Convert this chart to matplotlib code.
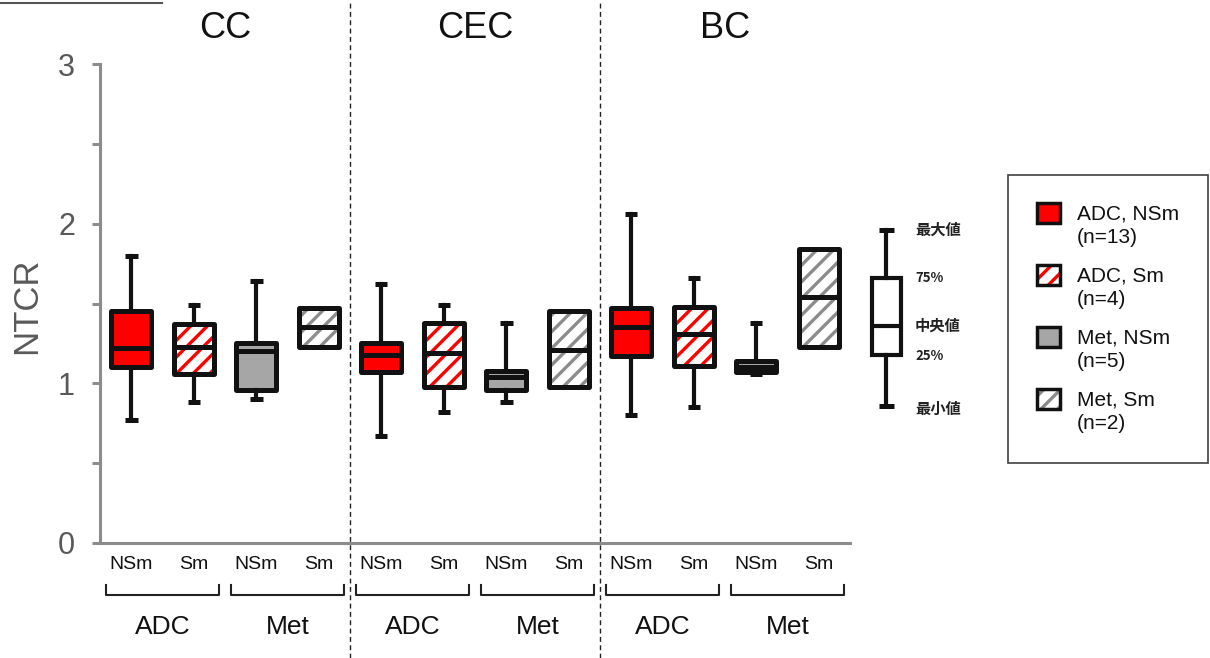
import matplotlib
matplotlib.use('Agg')
import matplotlib.pyplot as plt
from matplotlib.patches import Patch, PathPatch, Rectangle
from matplotlib.transforms import blended_transform_factory
from matplotlib.legend_handler import HandlerPatch

plt.rcParams['font.family'] = ['Liberation Sans', 'Noto Sans CJK JP', 'DejaVu Sans']
plt.rcParams['hatch.linewidth'] = 2.4

# ---------------- data ----------------
regions = ['CC', 'CEC', 'BC']
histology = ['ADC', 'Met']
smoking = ['NSm', 'Sm']
series_labels = ['ADC, NSm\n(n=13)', 'ADC, Sm\n(n=4)', 'Met, NSm\n(n=5)', 'Met, Sm\n(n=2)']

# order within each region: ADC-NSm, ADC-Sm, Met-NSm, Met-Sm
whislo = [0.77, 0.88, 0.90, None, 0.67, 0.82, 0.88, None, 0.80, 0.85, 1.06, None]
q1 =     [1.10, 1.06, 0.96, 1.23, 1.07, 0.98, 0.96, 0.98, 1.17, 1.11, 1.07, 1.23]
med =    [1.22, 1.23, 1.20, 1.35, 1.18, 1.19, 1.04, 1.21, 1.35, 1.31, 1.10, 1.54]
q3 =     [1.45, 1.37, 1.25, 1.47, 1.25, 1.38, 1.08, 1.45, 1.47, 1.48, 1.14, 1.84]
whishi = [1.80, 1.49, 1.64, None, 1.62, 1.49, 1.38, None, 2.06, 1.66, 1.38, None]

# schematic key box: min, 25%, median, 75%, max
key_stats = [0.86, 1.18, 1.36, 1.66, 1.96]
key_labels = ['最小値', '25%', '中央値', '75%', '最大値']
key_label_y = [0.84, 1.17, 1.36, 1.66, 1.96]

yticks_major = [0, 1, 2, 3]

# ---------------- styles ----------------
RED = '#ff0000'
GRAY_FILL = '#a6a6a6'
GRAY_HATCH = '#8c8c8c'
AXIS_GRAY = '#8c8c8c'
TEXT_GRAY = '#595959'
series_face = [RED, 'white', GRAY_FILL, 'white']
series_hatch = [None, '//', None, '//']
series_hcolor = [None, RED, None, GRAY_HATCH]

fig = plt.figure(figsize=(12.10, 6.58), dpi=100)
W, H = 1210, 658
ax = fig.add_axes([100 / W, 1 - 543 / H, 900 / W, (543 - 64) / H])
ax.set_xlim(0, 14.4)
ax.set_ylim(0, 3)

stats = []
for i in range(len(q1)):
    lo = whislo[i] if whislo[i] is not None else q1[i]
    hi = whishi[i] if whishi[i] is not None else q3[i]
    stats.append(dict(whislo=lo, q1=q1[i], med=med[i], q3=q3[i], whishi=hi, fliers=[]))
positions = [i + 0.5 for i in range(len(stats))]

bp = ax.bxp(stats, positions=positions, widths=0.64, patch_artist=True,
            showfliers=False,
            boxprops=dict(linewidth=3.6, edgecolor='#111111', joinstyle='round'),
            medianprops=dict(linewidth=3.6, color='#111111', solid_capstyle='butt'),
            whiskerprops=dict(linewidth=3.0, color='#111111'),
            capprops=dict(linewidth=3.6, color='#111111', solid_capstyle='butt'),
            capwidths=0.2, manage_ticks=False)

for i, box in enumerate(bp['boxes']):
    s = i % 4
    if series_hatch[s]:
        box.set_facecolor('none')
        hp = PathPatch(box.get_path(), facecolor='white', edgecolor=series_hcolor[s],
                       hatch=series_hatch[s], linewidth=0, zorder=box.get_zorder() - 0.1)
        ax.add_patch(hp)
    else:
        box.set_facecolor(series_face[s])

# key schematic
kst = [dict(whislo=key_stats[0], q1=key_stats[1], med=key_stats[2], q3=key_stats[3],
            whishi=key_stats[4], fliers=[])]
kb = ax.bxp(kst, positions=[12.58], widths=0.47, patch_artist=True, showfliers=False,
            boxprops=dict(linewidth=3.0, edgecolor='#111111', facecolor='white'),
            medianprops=dict(linewidth=3.0, color='#111111'),
            whiskerprops=dict(linewidth=3.0, color='#111111'),
            capprops=dict(linewidth=3.6, color='#111111', solid_capstyle='butt'),
            capwidths=0.24, manage_ticks=False)
for lab, yy in zip(key_labels, key_label_y):
    fs = 9.5 if '%' in lab else 11
    ax.text(13.04, yy, lab, ha='left', va='center', fontsize=fs,
            family=['Noto Sans CJK JP', 'DejaVu Sans'], weight='bold', color='#222222')

# axes styling
for sp in ['top', 'right']:
    ax.spines[sp].set_visible(False)
for sp in ['left', 'bottom']:
    ax.spines[sp].set_color(AXIS_GRAY)
    ax.spines[sp].set_linewidth(2.2)
ax.spines['left'].set_bounds(0, 3)
ax.spines['bottom'].set_bounds(0, 12)
ax.set_yticks(yticks_major)
ax.set_yticks([0.5, 1.5, 2.5], minor=True)
ax.tick_params(axis='y', which='both', length=6, width=2.2, color=AXIS_GRAY,
               labelsize=22, labelcolor=TEXT_GRAY, pad=12)
ax.set_xticks([])

fig.text(27 / W, 1 - 306 / H, 'NTCR', rotation=90, ha='center', va='center',
         fontsize=25, color=TEXT_GRAY)

# category labels
for r, reg in enumerate(regions):
    ax.text(4 * r + 2, 3.22, reg, ha='center', va='center', fontsize=26, color='#111111',
            clip_on=False)
    for h, hist in enumerate(histology):
        g = 4 * r + 2 * h
        for s, sm in enumerate(smoking):
            ax.text(g + s + 0.5, -0.135, sm, ha='center', va='center', fontsize=14,
                    color='#111111', clip_on=False)
        x0, x1 = g + 0.1, g + 1.9
        ax.plot([x0, x0, x1, x1], [-0.265, -0.326, -0.326, -0.265], color='#222222',
                lw=1.5, clip_on=False, solid_joinstyle='round')
        ax.text(g + 1, -0.526, hist, ha='center', va='center', fontsize=19,
                color='#111111', clip_on=False)

# dashed separators across full figure height
tr = blended_transform_factory(ax.transData, fig.transFigure)
for xs in [4, 8]:
    ax.plot([xs, xs], [0, 1], transform=tr, color='#222222', lw=1.0,
            linestyle=(0, (3.5, 2.5)), clip_on=False, zorder=0)

# clipped title underline at top-left
fig.add_artist(plt.Line2D([0, 162 / W], [1 - 3 / H, 1 - 3 / H], color='#555555', lw=1.5))

# legend
def square_patch(legend, orig_handle, xdescent, ydescent, width, height, fontsize):
    return Rectangle((-xdescent, -ydescent + 0.62 * fontsize), width, height)

handles = []
for s in range(4):
    if series_hatch[s]:
        handles.append((Patch(facecolor='white', edgecolor=series_hcolor[s],
                              hatch=series_hatch[s], linewidth=0),
                        Patch(facecolor='none', edgecolor='#111111', linewidth=2.5)))
    else:
        handles.append(Patch(facecolor=series_face[s], edgecolor='#111111', linewidth=2.5))

leg = fig.legend(handles, series_labels, loc='upper left',
                 bbox_to_anchor=(1008 / W, 1 - 175 / H), bbox_transform=fig.transFigure,
                 fontsize=15, frameon=True, fancybox=False, borderaxespad=0,
                 handlelength=1.1, handleheight=1.1, handletextpad=0.8,
                 borderpad=1.4, labelspacing=0.9,
                 handler_map={Patch: HandlerPatch(patch_func=square_patch)})
leg.get_frame().set_edgecolor('#111111')
leg.get_frame().set_linewidth(1.2)
for t in leg.get_texts():
    t.set_linespacing(1.35)
    t.set_color('#111111')

fig.savefig('out.png', dpi=100)
